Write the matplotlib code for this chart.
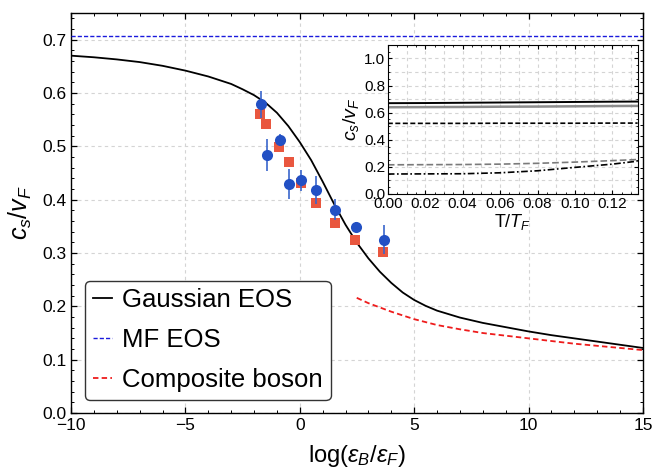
import numpy as np
import matplotlib
matplotlib.use("Agg")
import matplotlib.pyplot as plt
from matplotlib.ticker import MultipleLocator, FormatStrFormatter

plt.rcParams["font.family"] = ["Liberation Sans", "DejaVu Sans"]
plt.rcParams["mathtext.fontset"] = "custom"
plt.rcParams["mathtext.rm"] = "Liberation Sans"
plt.rcParams["mathtext.it"] = "Liberation Sans:italic"

# Gaussian EOS curve
gauss_x = [-10, -9, -8, -7, -6, -5, -4, -3, -2.5, -2, -1.5, -1, -0.5, 0, 0.5, 1.0,
           1.5, 2.0, 2.5, 3.0, 3.5, 4.0, 4.5, 5.0, 5.5, 6, 7, 8, 9, 10, 11, 12, 13, 14, 15]
gauss_y = [0.670, 0.667, 0.663, 0.658, 0.651, 0.642, 0.631, 0.617, 0.607, 0.596,
           0.582, 0.563, 0.538, 0.508, 0.474, 0.434, 0.392, 0.353, 0.319, 0.290,
           0.265, 0.244, 0.226, 0.212, 0.201, 0.192, 0.179, 0.169, 0.161, 0.153,
           0.146, 0.140, 0.134, 0.128, 0.122]

# Composite boson curve
boson_x = [2.49, 3.0, 3.5, 4.0, 5.0, 6.0, 7.0, 8.0, 9.0, 10.0, 11.0, 12.0, 13.0, 14.0, 15.0]
boson_y = [0.216, 0.206, 0.198, 0.190, 0.176, 0.165, 0.157, 0.150, 0.145, 0.140,
           0.135, 0.130, 0.126, 0.122, 0.118]

# mean-field value
mf_value = 1 / np.sqrt(2)

# experiment, blue circles with error bars
blue_x = [-1.70, -1.45, -0.87, -0.46, 0.04, 0.71, 1.55, 2.46, 3.68]
blue_y = [0.579, 0.483, 0.512, 0.429, 0.436, 0.418, 0.381, 0.349, 0.325]
blue_err = [0.025, 0.030, 0.012, 0.028, 0.019, 0.026, 0.020, 0.010, 0.027]

# red squares
red_x = [-1.72, -1.48, -0.90, -0.49, 0.04, 0.71, 1.54, 2.43, 3.65]
red_y = [0.560, 0.542, 0.499, 0.470, 0.432, 0.394, 0.356, 0.325, 0.301]

# inset: c_s/v_F vs T/T_F
t_vals = [0.0, 0.02, 0.04, 0.06, 0.08, 0.10, 0.12, 0.1335]
inset_black = [0.670, 0.671, 0.673, 0.675, 0.677, 0.679, 0.681, 0.682]
inset_grey = [0.640, 0.641, 0.642, 0.644, 0.645, 0.647, 0.649, 0.650]
inset_dashed = [0.521, 0.521, 0.521, 0.522, 0.522, 0.522, 0.523, 0.523]
inset_grey_dashed = [0.215, 0.216, 0.217, 0.220, 0.226, 0.235, 0.246, 0.254]
inset_dashdot = [0.147, 0.148, 0.149, 0.156, 0.171, 0.196, 0.220, 0.242]

fig = plt.figure(figsize=(6.54, 4.73), dpi=100)
ax = fig.add_axes([0.1086, 0.1268, 0.8744, 0.8457])

grid_kw = dict(color="#d4d4d4", linestyle=(0, (3, 3)), linewidth=0.8)

ax.plot(gauss_x, gauss_y, color="black", lw=1.3, label="Gaussian EOS", zorder=3)
ax.axhline(mf_value, color="#1a1adc", lw=1.0, ls=(0, (3, 1.5)), label="MF EOS", zorder=3)
ax.plot(boson_x, boson_y, color="#ee1c1c", lw=1.3, ls=(0, (3, 1.8)), label="Composite boson", zorder=3)

ax.plot(red_x, red_y, "s", color="#e9573f", ms=7, mew=0, zorder=4)
ax.errorbar(blue_x, blue_y, yerr=blue_err, fmt="o", color="#2250c4", ecolor="#3a66cc",
            ms=8, mew=0, elinewidth=1.2, capsize=2, capthick=1.0, zorder=5)

ax.set_xlim(-10, 15)
ax.set_ylim(0, 0.75)
ax.xaxis.set_major_locator(MultipleLocator(5))
ax.xaxis.set_minor_locator(MultipleLocator(1))
ax.yaxis.set_major_locator(MultipleLocator(0.1))
ax.yaxis.set_minor_locator(MultipleLocator(0.02))
ax.yaxis.set_major_formatter(FormatStrFormatter("%.1f"))
ax.tick_params(which="both", direction="in", top=True, right=True, labelsize=12.5)
ax.tick_params(which="major", length=4, width=0.9)
ax.tick_params(which="minor", length=2, width=0.7)
ax.grid(True, which="major", **grid_kw)
ax.set_axisbelow(True)
for s in ax.spines.values():
    s.set_linewidth(1.0)

ax.set_xlabel(r"log($\epsilon_B$/$\epsilon_F$)", fontsize=17, labelpad=7)
ax.set_ylabel(r"$c_s$/$v_F$", fontsize=18, labelpad=6)

leg = ax.legend(loc="lower left", bbox_to_anchor=(0.0245, 0.0325), borderaxespad=0,
                fontsize=18.5, handlelength=0.75, handletextpad=0.4, labelspacing=0.62,
                borderpad=0.3, fancybox=True, framealpha=1, edgecolor="#333333")
leg.get_frame().set_linewidth(1.0)

# inset
ins = fig.add_axes([0.593, 0.590, 0.382, 0.315])
ins.plot(t_vals, inset_black, color="black", lw=1.4)
ins.plot(t_vals, inset_grey, color="#8c8c8c", lw=1.8)
ins.plot(t_vals, inset_dashed, color="black", lw=1.2, ls=(0, (3, 1.5)))
ins.plot(t_vals, inset_grey_dashed, color="#7a7a7a", lw=1.2, ls=(0, (4, 1.8)))
ins.plot(t_vals, inset_dashdot, color="black", lw=1.2, ls=(0, (4, 1.5, 1, 1.5)))
ins.set_xlim(0, 0.1335)
ins.set_ylim(0, 1.1)
ins.xaxis.set_major_locator(MultipleLocator(0.02))
ins.xaxis.set_minor_locator(MultipleLocator(0.005))
ins.yaxis.set_major_locator(MultipleLocator(0.2))
ins.yaxis.set_minor_locator(MultipleLocator(0.05))
ins.xaxis.set_major_formatter(FormatStrFormatter("%.2f"))
ins.yaxis.set_major_formatter(FormatStrFormatter("%.1f"))
ins.tick_params(which="both", direction="in", top=True, right=True, labelsize=11, pad=2)
ins.tick_params(which="major", length=3, width=0.8)
ins.tick_params(which="minor", length=1.5, width=0.6)
for gx in np.arange(0.01, 0.135, 0.01):
    ins.axvline(gx, zorder=0, **grid_kw)
for gy in np.arange(0.1, 1.1, 0.1):
    ins.axhline(gy, zorder=0, **grid_kw)
ins.set_xlabel(r"T/$T_F$", fontsize=13, labelpad=1)
ins.set_ylabel(r"$c_s$/$v_F$", fontsize=14, labelpad=2)

fig.savefig("out.png", dpi=100)
